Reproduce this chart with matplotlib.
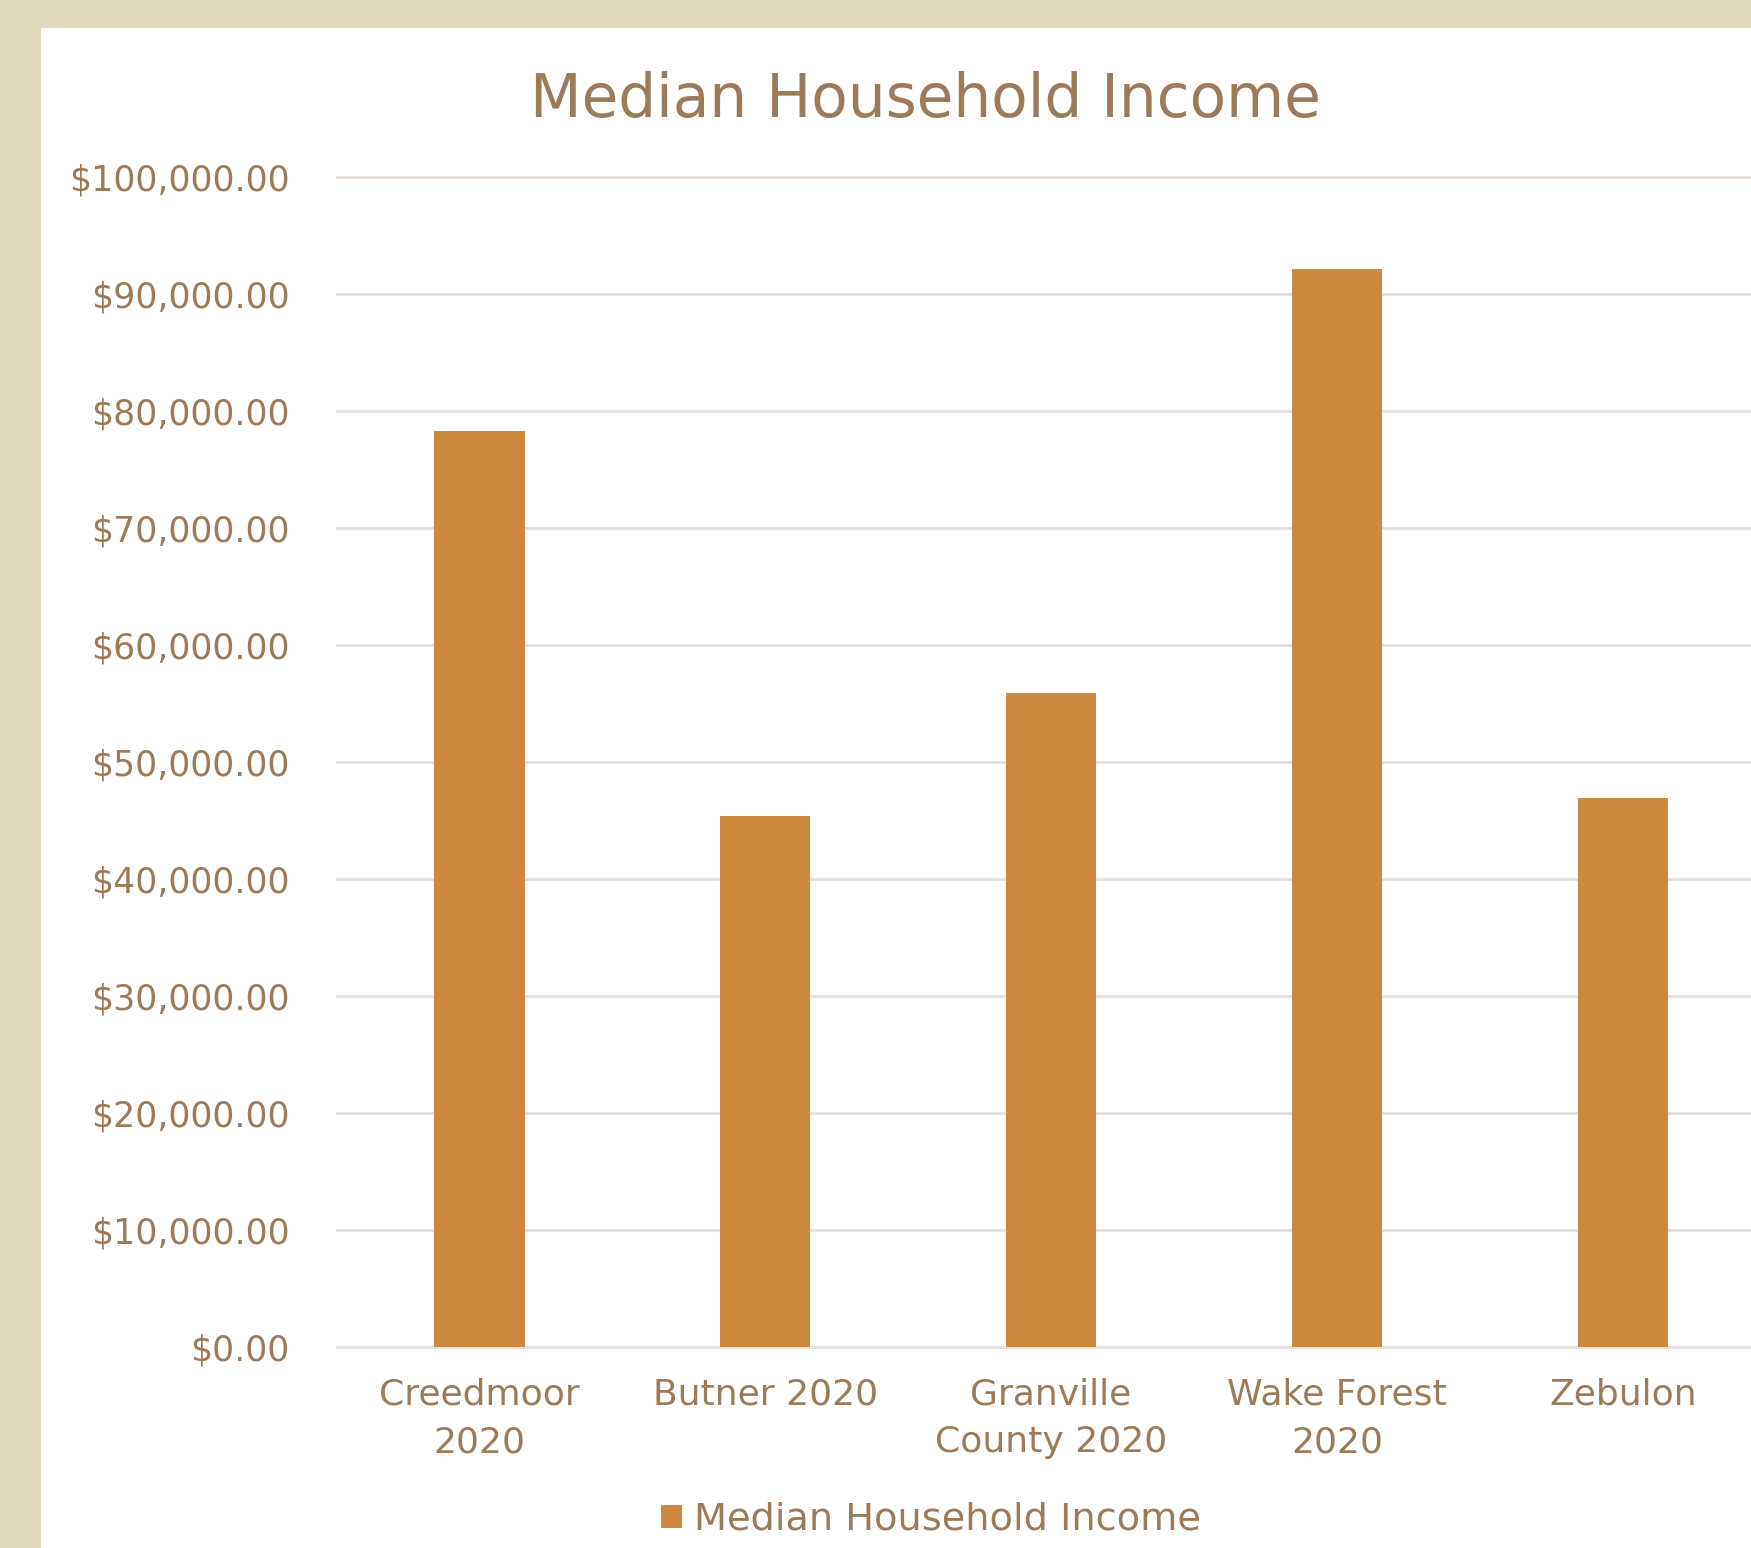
import matplotlib.pyplot as plt
from matplotlib.patches import Rectangle
from matplotlib.ticker import FuncFormatter

places = ['Creedmoor\n2020', 'Butner 2020', 'Granville\nCounty 2020', 'Wake Forest\n2020', 'Zebulon']
income = [78300, 45400, 55870, 92160, 46900]
y_ticks = [0, 10000, 20000, 30000, 40000, 50000, 60000, 70000, 80000, 90000, 100000]

text_col = '#9C7B5A'
bar_col = '#CE8940'
grid_col = '#E8DFD8'
border_col = '#E0D8BA'

plt.rcParams['font.family'] = ['DejaVu Sans']

W, H = 1751, 1548
fig = plt.figure(figsize=(W / 100, H / 100), dpi=100)
fig.patch.set_facecolor(border_col)
# white chart panel (cropped on right and bottom)
fig.add_artist(Rectangle((41 / W, 0), 1, 1 - 28 / H, transform=fig.transFigure,
                         facecolor='white', edgecolor='none', zorder=0))

left, right = 336.6 / W, 1765.6 / W
bottom, top = 1 - 1347 / H, 1 - 177 / H
ax = fig.add_axes([left, bottom, right - left, top - bottom])
ax.set_facecolor('none')

x = list(range(len(places)))
ax.bar(x, income, width=0.315, color=bar_col, zorder=3, label='Median Household Income')
ax.set_xlim(-0.5, len(places) - 0.5)
ax.set_ylim(0, 100000)
ax.set_yticks(y_ticks)
ax.yaxis.set_major_formatter(FuncFormatter(lambda v, p: '${:,.2f}'.format(v)))
ax.set_xticks(x)
ax.set_xticklabels(places, linespacing=1.5)
ax.grid(axis='y', color=grid_col, linewidth=2, zorder=0)
for gl in ax.get_ygridlines():
    gl.set_clip_on(False)
for s in ax.spines.values():
    s.set_visible(False)
ax.tick_params(axis='both', length=0, colors=text_col)
ax.tick_params(axis='y', pad=34, labelsize=25)
ax.tick_params(axis='x', pad=22, labelsize=26)

fig.text(925 / W, 1 - 100 / H, 'Median Household Income', ha='center', va='center',
         fontsize=43, color=text_col)

fig.legend(loc='center', bbox_to_anchor=(931 / W, 1 - 1520 / H), frameon=False,
           fontsize=27.5, labelcolor=text_col, handlelength=0.55, handleheight=0.55,
           handletextpad=0.3)

fig.savefig('out.png', dpi=100, facecolor=fig.get_facecolor())
